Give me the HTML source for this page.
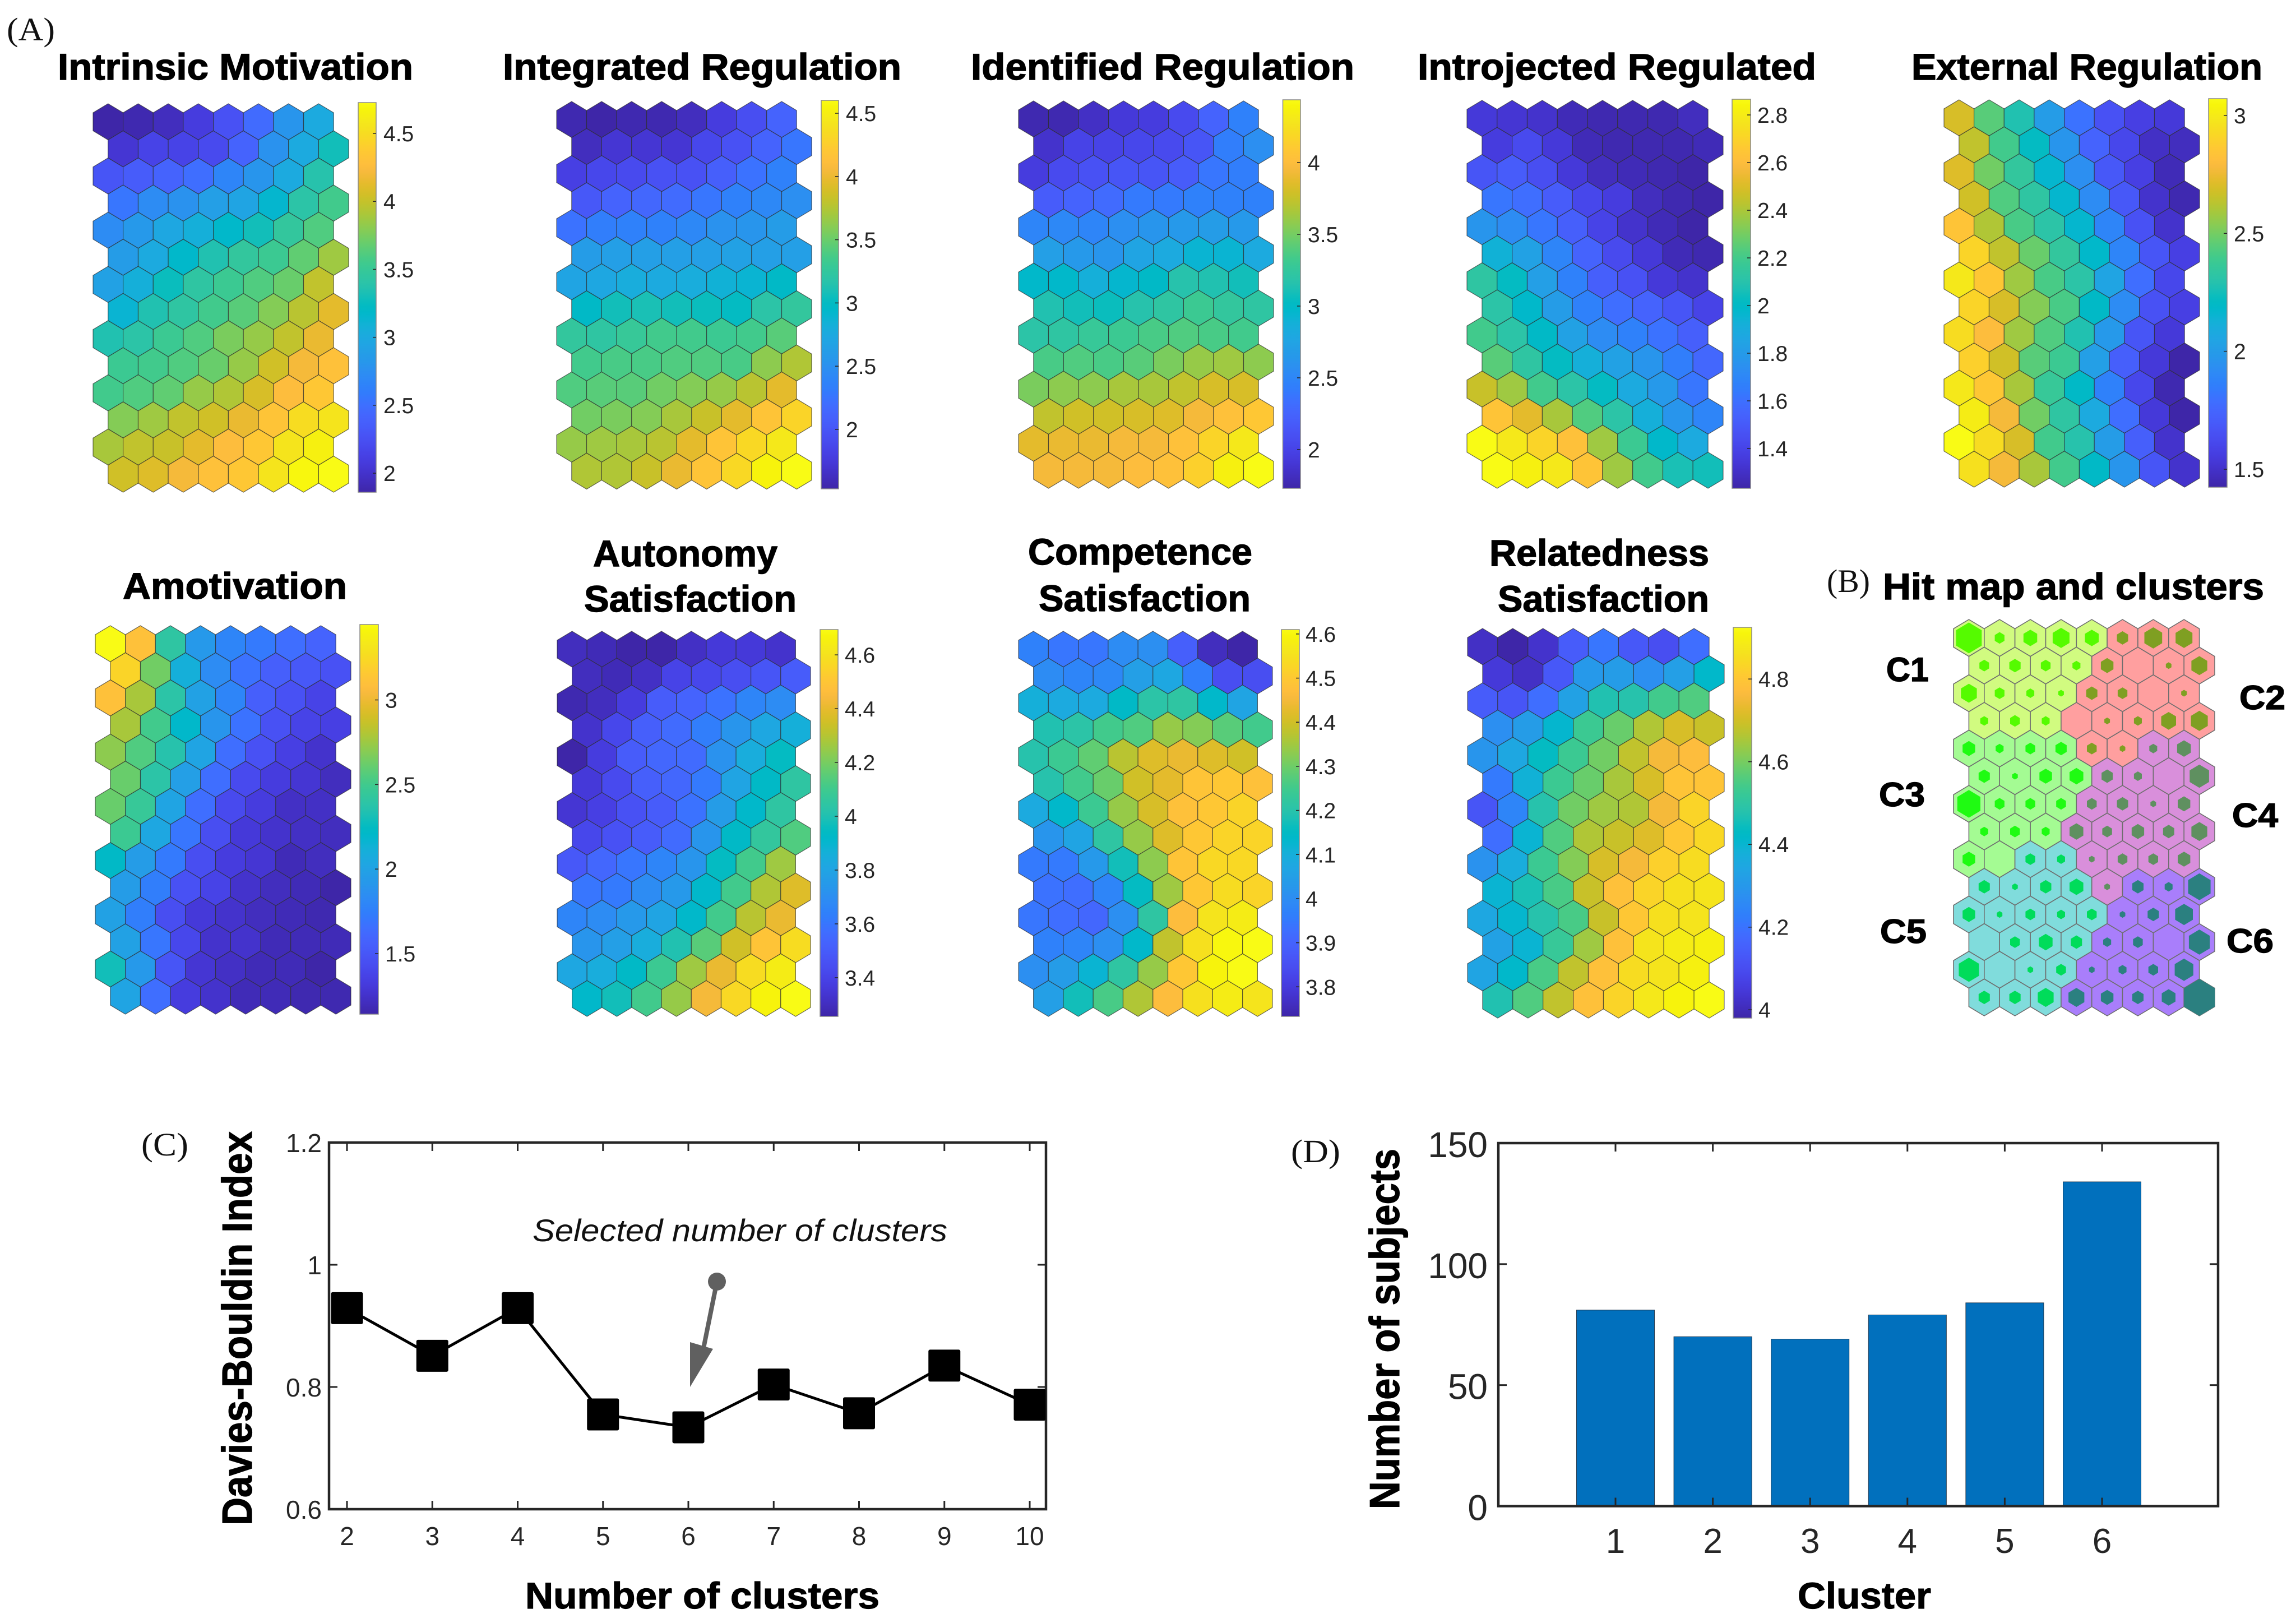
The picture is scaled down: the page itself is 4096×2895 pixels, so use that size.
<!DOCTYPE html>
<html lang="en">
<head>
<meta charset="utf-8">
<title>SOM component planes, hit map and cluster evaluation</title>
<style>
  html, body { margin: 0; padding: 0; background: #ffffff; }
  svg { display: block; }
  text { font-family: "Liberation Sans", sans-serif; }
  .title { font-weight: 700; font-size: 66px; fill: #000; stroke: #000; stroke-width: 1.4px; }
  .panel { font-family: "Liberation Serif", serif; font-size: 58px; fill: #111; }
  .cluster { font-weight: 700; font-size: 60px; fill: #000; stroke: #000; stroke-width: 1.4px; }
  .axis-title { font-weight: 700; font-size: 66px; fill: #000; stroke: #000; stroke-width: 1.2px; }
  .axis-title-y { font-size: 75px; }
  .tick { font-size: 39px; fill: #262626; }
</style>
</head>
<body>
<svg id="figure" xmlns="http://www.w3.org/2000/svg" width="4096" height="2895" viewBox="0 0 4096 2895">
  <rect x="0" y="0" width="4096" height="2895" fill="#ffffff"/>

  <text class="panel" x="12" y="72" textLength="86" lengthAdjust="spacingAndGlyphs">(A)</text>
  <text class="panel" x="3259" y="1056" textLength="77" lengthAdjust="spacingAndGlyphs">(B)</text>
  <text class="panel" x="252" y="2061" textLength="84" lengthAdjust="spacingAndGlyphs">(C)</text>
  <text class="panel" x="2303" y="2073" textLength="88" lengthAdjust="spacingAndGlyphs">(D)</text>

  <text class="title" x="103" y="142" textLength="634" lengthAdjust="spacingAndGlyphs">Intrinsic Motivation</text>
  <text class="title" x="897" y="142" textLength="711" lengthAdjust="spacingAndGlyphs">Integrated Regulation</text>
  <text class="title" x="1732" y="142" textLength="684" lengthAdjust="spacingAndGlyphs">Identified Regulation</text>
  <text class="title" x="2529" y="142" textLength="711" lengthAdjust="spacingAndGlyphs">Introjected Regulated</text>
  <text class="title" x="3410" y="142" textLength="626" lengthAdjust="spacingAndGlyphs">External Regulation</text>
  <text class="title" x="219" y="1068" textLength="400" lengthAdjust="spacingAndGlyphs">Amotivation</text>
  <text class="title" x="1058" y="1010" textLength="329" lengthAdjust="spacingAndGlyphs">Autonomy</text>
  <text class="title" x="1042" y="1091" textLength="379" lengthAdjust="spacingAndGlyphs">Satisfaction</text>
  <text class="title" x="1834" y="1007" textLength="400" lengthAdjust="spacingAndGlyphs">Competence</text>
  <text class="title" x="1853" y="1090" textLength="378" lengthAdjust="spacingAndGlyphs">Satisfaction</text>
  <text class="title" x="2657" y="1009" textLength="392" lengthAdjust="spacingAndGlyphs">Relatedness</text>
  <text class="title" x="2672" y="1091" textLength="377" lengthAdjust="spacingAndGlyphs">Satisfaction</text>
  <text class="title" x="3359" y="1069" textLength="680" lengthAdjust="spacingAndGlyphs">Hit map and clusters</text>

  <text class="cluster" x="3365" y="1215" textLength="76" lengthAdjust="spacingAndGlyphs">C1</text>
  <text class="cluster" x="3995" y="1265" textLength="82" lengthAdjust="spacingAndGlyphs">C2</text>
  <text class="cluster" x="3352" y="1438" textLength="82" lengthAdjust="spacingAndGlyphs">C3</text>
  <text class="cluster" x="3982" y="1475" textLength="82" lengthAdjust="spacingAndGlyphs">C4</text>
  <text class="cluster" x="3354" y="1682" textLength="83" lengthAdjust="spacingAndGlyphs">C5</text>
  <text class="cluster" x="3972" y="1699" textLength="84" lengthAdjust="spacingAndGlyphs">C6</text>

  <text class="axis-title axis-title-y" x="449" y="2721" transform="rotate(-90 449 2721)" textLength="703" lengthAdjust="spacingAndGlyphs">Davies-Bouldin Index</text>
  <text class="axis-title" x="937" y="2869" textLength="632" lengthAdjust="spacingAndGlyphs">Number of clusters</text>
  <text x="950" y="2214" font-size="56" font-style="italic" fill="#111" textLength="740" lengthAdjust="spacingAndGlyphs">Selected number of clusters</text>
  <text class="axis-title axis-title-y" x="2496" y="2692" transform="rotate(-90 2496 2692)" textLength="643" lengthAdjust="spacingAndGlyphs">Number of subjects</text>
  <text class="axis-title" x="3207" y="2869" textLength="238" lengthAdjust="spacingAndGlyphs">Cluster</text>
</svg>

<script>
// MATLAB parula colormap (64 levels)
const parulaLevels = [
[.2422,.1504,.6603],[.2504,.165,.7076],[.2578,.1818,.7511],[.2647,.1978,.7952],[.2706,.2147,.8364],[.2751,.2342,.871],[.2783,.2559,.8991],[.2803,.2782,.9221],
[.2813,.3006,.9414],[.281,.3228,.9579],[.2795,.3447,.9717],[.276,.3667,.9829],[.2699,.3892,.9906],[.2602,.4123,.9952],[.244,.4358,.9988],[.2206,.4603,.9973],
[.1963,.4847,.9892],[.1834,.5074,.9798],[.1786,.5289,.9682],[.1764,.5499,.952],[.1687,.5703,.9359],[.154,.5902,.9218],[.146,.6091,.9079],[.138,.6276,.8973],
[.1248,.6459,.8883],[.1113,.6635,.8763],[.0952,.6798,.8598],[.0689,.6948,.8394],[.0297,.7082,.8163],[.0036,.7203,.7917],[.0067,.7312,.766],[.0433,.7411,.7394],
[.0964,.75,.712],[.1408,.7584,.6842],[.1717,.767,.6554],[.1938,.7758,.6251],[.2161,.7843,.5923],[.247,.7918,.5567],[.2906,.7973,.5188],[.3406,.8008,.4789],
[.3909,.8029,.4354],[.4456,.8024,.3909],[.5044,.7993,.348],[.5616,.7942,.3045],[.6174,.7876,.2612],[.672,.7793,.2227],[.7242,.7698,.191],[.7738,.7598,.1646],
[.8203,.7498,.1535],[.8634,.7406,.1596],[.9035,.733,.1774],[.9393,.7288,.21],[.9728,.7298,.2394],[.9956,.7434,.2371],[.997,.7659,.2199],[.9952,.7861,.199],
[.9892,.8134,.176],[.9786,.8393,.1492],[.9676,.8639,.1276],[.961,.889,.1139],[.9597,.9135,.101],[.9628,.9373,.0661],[.9691,.9606,.0412],[.9769,.9839,.0805]];

// Component-plane cell values: 14 rows x 8 columns, in percent of each colorbar's range
const intrinsicMotivationCells = [
[0,1,3,8,14,21,33,40],[6,10,10,12,19,32,40,50],[15,17,19,22,28,33,40,53],[24,30,32,36,38,45,54,59],
[30,34,39,42,46,50,56,61],[35,40,46,52,56,58,63,70],[37,42,49,55,58,61,64,74],[44,52,55,59,62,67,73,79],
[52,54,58,61,66,69,74,80],[58,59,61,64,69,76,82,85],[59,61,63,69,72,77,84,87],[67,70,74,76,80,86,92,94],
[71,74,75,79,84,87,94,97],[76,78,82,85,87,94,99,100]];
const integratedRegulationCells = [
[1,0,1,1,3,8,13,19],[3,6,6,6,11,14,19,24],[9,11,12,14,14,18,23,27],[16,19,20,21,24,27,29,31],
[23,26,27,27,29,32,33,35],[35,36,36,36,36,37,36,36],[38,39,41,40,41,43,44,47],[47,50,51,50,49,48,54,56],
[56,55,57,59,59,58,59,62],[59,60,60,61,61,60,68,72],[61,62,62,65,67,69,73,79],[65,66,67,71,75,79,86,90],
[69,70,71,73,79,86,91,95],[72,72,75,80,86,91,98,100]];
const identifiedRegulationCells = [
[1,1,4,7,8,12,19,27],[5,10,10,11,12,15,26,31],[8,12,14,15,15,17,24,26],[17,19,21,25,25,27,27,27],
[28,29,28,31,33,34,35,34],[36,34,33,38,40,44,44,40],[46,46,42,45,47,53,52,50],[52,50,49,53,55,58,56,55],
[54,55,57,58,60,61,60,59],[60,61,60,62,66,69,70,68],[66,68,68,71,71,74,77,77],[74,76,76,77,78,82,85,87],
[79,80,80,82,82,85,90,95],[82,82,82,84,85,89,97,100]];
const introjectedRegulatedCells = [
[7,6,5,2,1,1,1,3],[8,12,7,2,1,1,1,2],[15,17,13,7,3,2,1,0],[24,22,17,11,8,3,1,0],
[33,30,24,18,10,5,2,0],[43,37,28,19,12,7,2,1],[55,48,36,27,18,14,7,5],[54,46,35,27,22,19,15,10],
[59,54,47,37,30,27,23,18],[62,55,48,42,37,33,26,20],[75,70,59,54,48,40,34,24],[86,79,71,61,54,42,33,28],
[100,95,90,85,70,58,46,40],[100,97,95,86,70,59,51,50]];
const externalRegulationCells = [
[77,62,52,35,23,14,9,7],[74,59,48,33,19,11,4,3],[78,65,56,45,31,16,9,2],[76,61,55,45,30,16,5,1],
[86,72,60,54,45,28,14,5],[90,74,64,56,46,28,15,9],[95,87,70,60,54,38,22,11],[90,77,67,60,47,30,14,9],
[92,84,70,61,52,34,15,7],[89,76,62,58,36,18,7,0],[95,87,71,57,47,27,11,1],[96,82,65,55,40,22,7,0],
[100,92,77,59,53,35,18,5],[93,82,71,59,47,33,15,5]];
const amotivationCells = [
[100,85,55,34,28,25,22,19],[90,65,42,30,23,18,16,14],[85,71,54,37,28,18,14,10],[71,59,46,33,23,14,10,9],
[68,61,53,38,22,14,9,5],[64,54,36,22,12,8,6,3],[64,57,38,22,12,8,4,4],[58,39,24,13,7,5,4,3],
[47,35,25,13,8,6,2,3],[35,26,14,10,5,3,2,0],[37,26,13,7,5,3,2,1],[37,24,11,5,5,2,2,2],
[50,34,15,6,4,2,2,0],[38,22,8,5,2,2,1,1]];
const autonomySatisfactionCells = [
[3,2,0,0,4,7,7,5],[3,2,4,10,11,13,15,17],[1,3,8,17,19,23,28,30],[5,11,18,21,26,33,39,42],
[0,8,17,20,21,32,41,48],[7,12,18,20,25,38,47,55],[6,9,14,17,23,35,46,55],[11,14,17,21,33,47,56,61],
[16,20,24,28,33,48,59,70],[24,25,30,34,46,59,72,78],[28,30,34,38,46,59,73,80],[33,36,41,52,62,76,86,92],
[39,41,47,58,70,80,92,96],[46,50,59,69,82,91,98,100]];
const competenceSatisfactionCells = [
[27,24,24,30,31,18,3,0],[30,28,29,36,39,26,13,13],[42,40,40,47,54,55,46,38],[52,54,59,61,69,67,62,59],
[53,58,63,73,78,80,78,76],[53,59,64,76,79,86,87,85],[40,46,58,69,77,85,87,90],[33,38,55,69,78,87,90,90],
[25,25,34,50,68,86,91,91],[23,22,28,48,70,87,92,90],[24,22,20,31,55,84,94,96],[27,28,31,46,74,93,99,100],
[31,35,44,55,69,87,98,100],[36,50,60,72,84,93,96,94]];
const relatednessSatisfactionCells = [
[4,0,5,17,24,16,13,22],[7,4,16,34,35,31,36,46],[17,15,22,37,52,53,59,61],[31,35,45,58,64,72,77,75],
[33,39,48,58,65,74,82,84],[25,43,58,64,71,77,86,86],[15,28,53,65,70,72,82,90],[22,44,61,72,75,78,87,91],
[32,41,58,67,77,82,89,92],[44,51,60,75,85,90,93,94],[39,45,53,60,75,87,93,94],[37,44,57,70,85,94,96,97],
[38,46,60,74,85,92,94,97],[52,61,74,85,90,95,98,100]];

// Colorbar limits and tick labels per component plane
const intrinsicMotivationRange = [1.86,4.727];
const integratedRegulationRange = [1.53,4.602];
const identifiedRegulationRange = [1.73,4.4375];
const introjectedRegulatedRange = [1.233,2.866];
const externalRegulationRange = [1.424,3.071];
const amotivationRange = [1.142,3.446];
const autonomySatisfactionRange = [3.256,4.694];
const competenceSatisfactionRange = [3.733,4.61];
const relatednessSatisfactionRange = [3.98,4.925];

const intrinsicMotivationTicks = [2,2.5,3,3.5,4,4.5];
const integratedRegulationTicks = [2,2.5,3,3.5,4,4.5];
const identifiedRegulationTicks = [2,2.5,3,3.5,4];
const introjectedRegulatedTicks = [1.4,1.6,1.8,2,2.2,2.4,2.6,2.8];
const externalRegulationTicks = [1.5,2,2.5,3];
const amotivationTicks = [1.5,2,2.5,3];
const autonomySatisfactionTicks = [3.4,3.6,3.8,4,4.2,4.4,4.6];
const competenceSatisfactionTicks = [3.8,3.9,4,4.1,4.2,4.3,4.4,4.5,4.6];
const relatednessSatisfactionTicks = [4,4.2,4.4,4.6,4.8];

// Hit map: cluster of each cell and number of hits
const clusterIds = [
[1,1,1,1,1,2,2,2],[1,1,1,1,2,2,2,2],[1,1,1,1,2,2,2,2],[1,1,1,2,2,2,2,2],
[3,3,3,3,2,2,4,4],[3,3,3,3,4,4,4,4],[3,3,3,3,4,4,4,4],[3,3,3,4,4,4,4,4],
[3,3,5,5,4,4,4,4],[5,5,5,5,4,6,6,6],[5,5,5,5,5,6,6,6],[5,5,5,5,6,6,6,6],
[5,5,5,5,6,6,6,6],[5,5,5,6,6,6,6,6]];
const hitCounts = [
[21,3,6,9,6,4,10,9],[3,4,3,2,5,0,1,8],[8,3,2,1,4,3,0,1],[2,3,2,0,1,2,7,9],
[5,2,3,4,3,1,2,6],[4,1,5,6,4,2,0,12],[17,3,3,3,3,4,1,5],[2,3,2,6,3,5,4,8],
[5,0,3,2,1,3,3,5],[4,1,4,6,1,4,2,16],[5,1,3,2,3,1,4,10],[0,3,6,4,2,3,0,14],
[13,0,1,3,1,2,3,11],[4,4,8,8,5,4,6,30]];
const clusterFillColors = ['#d1fb80','#ff9f9f','#a4fb93','#d98fdb','#80dcdc','#a97efb'];
const clusterHitColors = ['#55fb00','#7f9f22','#1ffb12','#5f9060','#00dc5a','#2b8080'];

// Panel C: Davies-Bouldin index
const clusterCounts = [2,3,4,5,6,7,8,9,10];
const daviesBouldinValues = [0.929,0.851,0.929,0.755,0.734,0.804,0.757,0.835,0.771];
const daviesBouldinTicks = [0.6,0.8,1,1.2];

// Panel D: subjects per cluster
const clusterNumbers = [1,2,3,4,5,6];
const subjectCounts = [81,70,69,79,84,134];
const subjectTicks = [0,50,100,150];

// Page layout of the component planes (pixels)
const planes = [
  {cells:intrinsicMotivationCells, range:intrinsicMotivationRange, ticks:intrinsicMotivationTicks, box:[166,622,185,878], bar:[639,671,183,878], label:684},
  {cells:integratedRegulationCells, range:integratedRegulationRange, ticks:integratedRegulationTicks, box:[993,1448,181,872.5], bar:[1465,1496,179,872], label:1509},
  {cells:identifiedRegulationCells, range:identifiedRegulationRange, ticks:identifiedRegulationTicks, box:[1817,2272,180,871], bar:[2288.5,2320,178,871], label:2333},
  {cells:introjectedRegulatedCells, range:introjectedRegulatedRange, ticks:introjectedRegulatedTicks, box:[2617,3074,179,871], bar:[3090,3123,177,871], label:3135},
  {cells:externalRegulationCells, range:externalRegulationRange, ticks:externalRegulationTicks, box:[3468,3924,178,869], bar:[3940,3973,176,869], label:3985},
  {cells:amotivationCells, range:amotivationRange, ticks:amotivationTicks, box:[170,626,1116,1809], bar:[642,675,1114,1809], label:687},
  {cells:autonomySatisfactionCells, range:autonomySatisfactionRange, ticks:autonomySatisfactionTicks, box:[994,1446,1126,1813], bar:[1463,1495,1123,1813], label:1507},
  {cells:competenceSatisfactionCells, range:competenceSatisfactionRange, ticks:competenceSatisfactionTicks, box:[1817,2270,1126,1813], bar:[2286,2318,1123,1813], label:2329},
  {cells:relatednessSatisfactionCells, range:relatednessSatisfactionRange, ticks:relatednessSatisfactionTicks, box:[2618,3076,1121,1816], bar:[3092,3125,1119,1816], label:3137}
];

const NS = 'http://www.w3.org/2000/svg';
const figure = document.getElementById('figure');

function make(tag, props, parent) {
  const node = document.createElementNS(NS, tag);
  for (const key in props) node.setAttribute(key, props[key]);
  (parent || figure).appendChild(node);
  return node;
}

function parulaColor(fraction) {
  const pos = Math.max(0, Math.min(1, fraction)) * (parulaLevels.length - 1);
  const low = Math.floor(pos);
  const high = Math.min(parulaLevels.length - 1, low + 1);
  const mix = pos - low;
  const channel = i => Math.round(255 * (parulaLevels[low][i] * (1 - mix) + parulaLevels[high][i] * mix));
  return 'rgb(' + channel(0) + ',' + channel(1) + ',' + channel(2) + ')';
}

function hexPoints(cx, cy, halfW, halfH) {
  return [[cx, cy - halfH], [cx + halfW, cy - halfH / 2], [cx + halfW, cy + halfH / 2],
          [cx, cy + halfH], [cx - halfW, cy + halfH / 2], [cx - halfW, cy - halfH / 2]]
    .map(p => p[0].toFixed(1) + ',' + p[1].toFixed(1)).join(' ');
}

// Colorbar gradient
const defs = make('defs', {});
const gradient = make('linearGradient', {id: 'parula-gradient', x1: 0, y1: 1, x2: 0, y2: 0}, defs);
parulaLevels.forEach((level, i) => {
  make('stop', {offset: i / (parulaLevels.length - 1), 'stop-color': parulaColor(i / (parulaLevels.length - 1))}, gradient);
});

// Component planes
planes.forEach(plane => {
  const group = make('g', {});
  
  
  const left = plane.box[0], right = plane.box[1], top = plane.box[2], bottom = plane.box[3];
  const stepX = (right - left) / 8.5;
  const hexH = (bottom - top) / 10.75;
  plane.cells.forEach((row, r) => {
    row.forEach((value, c) => {
      const cx = left + stepX * (c + 0.5 + (r % 2) * 0.5);
      const cy = top + hexH / 2 + r * hexH * 0.75;
      const cell = make('polygon', {
        points: hexPoints(cx, cy, stepX / 2, hexH / 2),
        fill: parulaColor(value / 100),
        stroke: '#2e2e2e', 'stroke-width': 1.2, 'stroke-opacity': 0.7
      }, group);
      
      
    });
  });
  const barL = plane.bar[0], barR = plane.bar[1], barT = plane.bar[2], barB = plane.bar[3];
  const bar = make('rect', {x: barL, y: barT, width: barR - barL, height: barB - barT,
    fill: 'url(#parula-gradient)', stroke: '#8a8a8a', 'stroke-width': 1.5}, group);
  
  
  const barScale = v => barB - (v - plane.range[0]) / (plane.range[1] - plane.range[0]) * (barB - barT);
  plane.ticks.forEach(tick => {
    const y = barScale(tick);
    const mark = make('line', {x1: barR - 6, x2: barR, y1: y, y2: y, stroke: '#262626', 'stroke-width': 1.5}, group);
    
    
    const label = make('text', {x: plane.label, y: y + 14, class: 'tick'}, group);
    label.textContent = String(tick);
    
    
  });
});

// Hit map with clusters
(function () {
  const left = 3485, right = 3951, top = 1105, bottom = 1812;
  const stepX = (right - left) / 8.5;
  const hexH = (bottom - top) / 10.75;
  const maxHits = 30;
  const group = make('g', {});
  
  
  clusterIds.forEach((row, r) => {
    row.forEach((cluster, c) => {
      const cx = left + stepX * (c + 0.5 + (r % 2) * 0.5);
      const cy = top + hexH / 2 + r * hexH * 0.75;
      const cell = make('polygon', {
        points: hexPoints(cx, cy, stepX / 2, hexH / 2),
        fill: clusterFillColors[cluster - 1], stroke: '#6e6e6e', 'stroke-width': 1.6
      }, group);
      
      
    });
  });
  clusterIds.forEach((row, r) => {
    row.forEach((cluster, c) => {
      const hits = hitCounts[r][c];
      if (!hits) return;
      const cx = left + stepX * (c + 0.5 + (r % 2) * 0.5);
      const cy = top + hexH / 2 + r * hexH * 0.75;
      const size = Math.sqrt(hits / maxHits);
      const marker = make('polygon', {
        points: hexPoints(cx, cy, stepX / 2 * size, hexH / 2 * size),
        fill: clusterHitColors[cluster - 1]
      }, group);
      
      
    });
  });
})();

function drawFrame(group, left, right, top, bottom) {
  const frame = make('rect', {x: left, y: top, width: right - left, height: bottom - top,
    fill: 'none', stroke: '#262626', 'stroke-width': 4.5}, group);
  
  
}

// Panel C: line chart
(function () {
  const left = 587, right = 1866, top = 2038, bottom = 2692;
  const xScale = v => 619 + (v - 2) * 152.25;
  const yScale = v => bottom - (v - 0.6) / 0.6 * (bottom - top);
  const group = make('g', {});
  
  
  clusterCounts.forEach(v => {
    const x = xScale(v);
    [[bottom, bottom - 15], [top, top + 15]].forEach(pair => {
      const tick = make('line', {x1: x, x2: x, y1: pair[0], y2: pair[1], stroke: '#262626', 'stroke-width': 3}, group);
      
      
    });
    const label = make('text', {x: x, y: 2756, 'text-anchor': 'middle', 'font-size': 46, fill: '#262626'}, group);
    label.textContent = String(v);
    
    
  });
  daviesBouldinTicks.forEach(v => {
    const y = yScale(v);
    [[left, left + 15], [right, right - 15]].forEach(pair => {
      const tick = make('line', {x1: pair[0], x2: pair[1], y1: y, y2: y, stroke: '#262626', 'stroke-width': 3}, group);
      
      
    });
    const label = make('text', {x: 574, y: y + 17, 'text-anchor': 'end', 'font-size': 46, fill: '#262626'}, group);
    label.textContent = String(v);
    
    
  });
  drawFrame(group, left, right, top, bottom);
  const path = daviesBouldinValues.map((v, i) => xScale(clusterCounts[i]).toFixed(1) + ',' + yScale(v).toFixed(1)).join(' ');
  const line = make('polyline', {points: path, fill: 'none', stroke: '#000', 'stroke-width': 5}, group);
  
  
  daviesBouldinValues.forEach((v, i) => {
    const marker = make('rect', {x: xScale(clusterCounts[i]) - 28.5, y: yScale(v) - 28.5, width: 57, height: 57, rx: 3, fill: '#000'}, group);
    
    
  });
  const shaft = make('line', {x1: 1279, y1: 2286, x2: 1255, y2: 2405, stroke: '#606060', 'stroke-width': 8}, group);
  
  
  const dot = make('ellipse', {cx: 1279, cy: 2286, rx: 16, ry: 16, fill: '#606060'}, group);
  
  
  const head = make('polygon', {points: '1231,2394 1272,2406 1231,2474', fill: '#606060'}, group);
  
  
})();

// Panel D: bar chart
(function () {
  const left = 2673, right = 3957, top = 2039, bottom = 2686.5;
  const xScale = v => 2882 + (v - 1) * 173.6;
  const yScale = v => bottom - v / 150 * (bottom - top);
  const group = make('g', {});
  
  
  subjectCounts.forEach((v, i) => {
    const x = xScale(clusterNumbers[i]);
    const bar = make('rect', {x: x - 69.5, y: yScale(v), width: 139, height: bottom - yScale(v),
      fill: '#0170bd', stroke: '#1f3a52', 'stroke-width': 1}, group);
    
    
  });
  clusterNumbers.forEach(v => {
    const x = xScale(v);
    [[bottom, bottom - 15], [top, top + 15]].forEach(pair => {
      const tick = make('line', {x1: x, x2: x, y1: pair[0], y2: pair[1], stroke: '#262626', 'stroke-width': 3}, group);
      
      
    });
    const label = make('text', {x: x, y: 2770, 'text-anchor': 'middle', 'font-size': 62, fill: '#262626'}, group);
    label.textContent = String(v);
    
    
  });
  subjectTicks.forEach(v => {
    const y = yScale(v);
    [[left, left + 15], [right, right - 15]].forEach(pair => {
      const tick = make('line', {x1: pair[0], x2: pair[1], y1: y, y2: y, stroke: '#262626', 'stroke-width': 3}, group);
      
      
    });
    const label = make('text', {x: 2654, y: y + 25, 'text-anchor': 'end', 'font-size': 64, fill: '#262626'}, group);
    label.textContent = String(v);
    
    
  });
  drawFrame(group, left, right, top, bottom);
})();
</script>
</body>
</html>
